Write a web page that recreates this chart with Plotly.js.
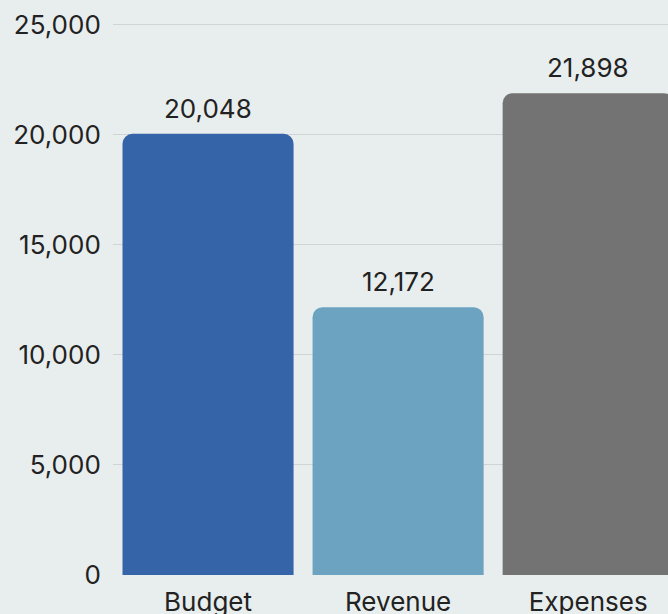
<!DOCTYPE html>
<html><head><meta charset="utf-8">
<script src="https://cdn.plot.ly/plotly-3.0.1.min.js"></script>
<style>html,body{margin:0;padding:0;background:#e8eded;overflow:hidden}</style>
</head><body>
<div id="chart" style="width:668px;height:614px"></div>
<script>
const categories = ["Budget", "Revenue", "Expenses"];
const values = [20048, 12172, 21898];
const barColors = ["#3565a8", "#6ba3c0", "#737373"];
const yTicks = [0, 5000, 10000, 15000, 20000, 25000];

const FONT = "Inter, 'Liberation Sans', sans-serif";

const trace = {
  type: "bar",
  x: categories,
  y: values,
  marker: {color: barColors, cornerradius: 10, line: {width: 0}},
  hoverinfo: "none"
};

const annotations = categories.map((c, i) => ({
  x: c, y: values[i], xref: "x", yref: "y",
  text: values[i].toLocaleString("en-US"),
  showarrow: false, yanchor: "bottom", yshift: 8,
  font: {family: FONT, size: 26, color: "#222"}
}));

const layout = {
  width: 668, height: 614,
  margin: {l: 113, r: 0, t: 15, b: 39},
  paper_bgcolor: "#e8eded",
  plot_bgcolor: "#e8eded",
  bargap: 0.1,
  showlegend: false,
  font: {family: FONT, size: 26, color: "#222"},
  xaxis: {
    range: [-0.5, 2.42],
    showgrid: false, zeroline: false, showline: false,
    ticks: "outside", ticklen: 4, tickcolor: "rgba(0,0,0,0)",
    tickfont: {family: FONT, size: 26, color: "#222"}
  },
  yaxis: {
    range: [0, 25450],
    tickvals: yTicks,
    ticktext: yTicks.map(v => v.toLocaleString("en-US")),
    showgrid: true, gridcolor: "#cfd4d4", gridwidth: 1,
    zeroline: false, showline: false,
    ticks: "outside", ticklen: 6, tickcolor: "rgba(0,0,0,0)",
    tickfont: {family: FONT, size: 26, color: "#222"}
  },
  annotations: annotations
};

Plotly.newPlot("chart", [trace], layout, {displayModeBar: false, staticPlot: true});
</script>
</body></html>
